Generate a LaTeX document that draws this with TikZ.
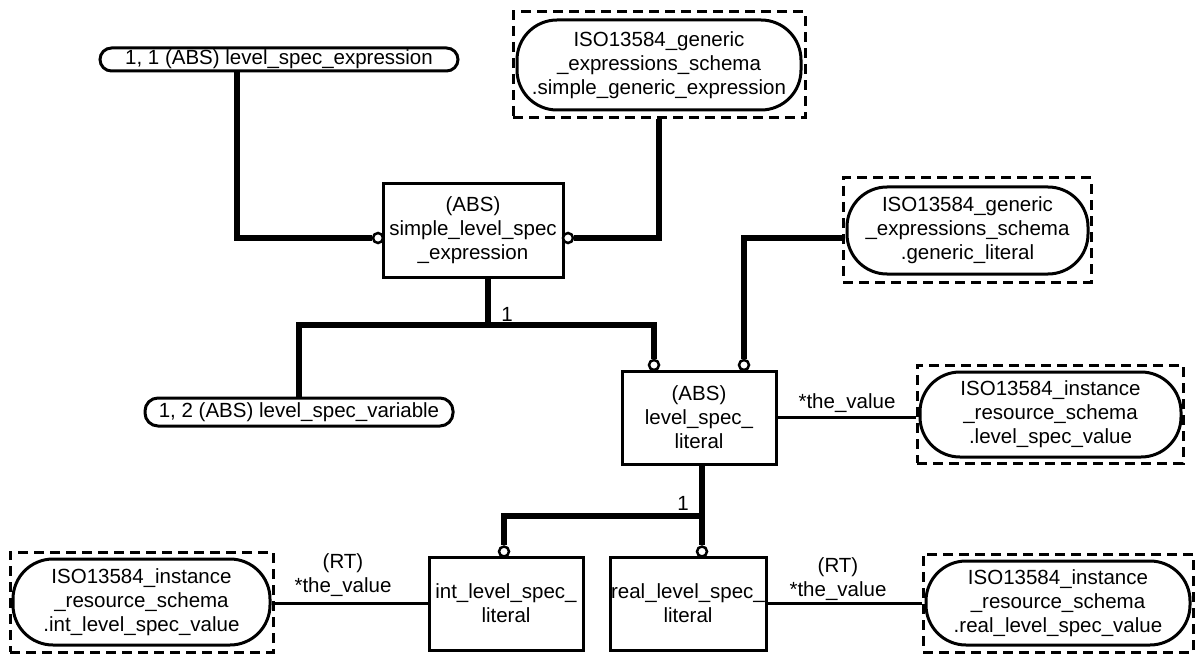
\documentclass[tikz,border=0pt]{standalone}
\usepackage{fontspec}
\setmainfont{Liberation Sans}
\begin{document}
\begin{tikzpicture}[x=1pt,y=-1pt,
  txt/.style={font=\fontsize{20.5}{24}\selectfont, align=center, inner sep=0pt},
  sz/.style 2 args={minimum width=#1, minimum height=#2},
  entbox/.style={txt, draw, line width=3pt},
  rndbox/.style={txt, draw, line width=3pt, rounded corners=#1},
  dashbox/.style={draw, dash pattern=on 10pt off 6pt, line width=3pt, inner sep=0pt},
  port/.style={circle, draw, fill=white, line width=2.5pt, inner sep=0pt, minimum size=10pt},
  heavy/.style={line width=5.5pt},
  light/.style={line width=3pt},
  lbl/.style={txt}]
\useasboundingbox (0,0) rectangle (1196,655);

% top level entities
\node[rndbox=11.5pt, sz={358}{23}] (A) at (279,59.5) {1, 1 (ABS) level\_spec\_expression};
\node[dashbox, sz={292}{106}] (Bd) at (659,65) {};
\node[rndbox=40pt, sz={284}{90}] (B) at (659,65)
  {ISO13584\_generic\\\_expressions\_schema\\.simple\_generic\_expression};

\node[entbox, sz={180}{93}] (S) at (473,230.5) {(ABS)\\simple\_level\_spec\\\_expression};
\node[port] (Sl) at (378,238) {};
\node[port] (Sr) at (568,238) {};

\node[rndbox=13pt, sz={308}{28}] (V) at (299,412) {1, 2 (ABS) level\_spec\_variable};

% generic literal
\node[dashbox, sz={248}{104}] (GLd) at (967,230) {};
\node[rndbox=40pt, sz={241}{87}] (GL) at (967.5,230.5)
  {ISO13584\_generic\\\_expressions\_schema\\.generic\_literal};

\node[entbox, sz={154}{93}] (L) at (699,417.5) {(ABS)\\level\_spec\_\\literal};
\node[port] (Lp1) at (654,365) {};
\node[port] (Lp2) at (744,365) {};

\node[dashbox, sz={266}{98}] (LVd) at (1050,414) {};
\node[rndbox=40pt, sz={261}{85}] (LV) at (1050.5,414.5)
  {ISO13584\_instance\\\_resource\_schema\\.level\_spec\_value};

% literal subtypes
\node[entbox, sz={154}{93}] (I) at (506,603.5) {int\_level\_spec\_\\literal};
\node[entbox, sz={156}{93}] (R) at (688,603.5) {real\_level\_spec\_\\literal};
\node[port] (Ip) at (504,551.5) {};
\node[port] (Rp) at (702,551.5) {};

\node[dashbox, sz={263}{100}] (IVd) at (141.5,602) {};
\node[rndbox=40pt, sz={257}{86}] (IV) at (141.5,602)
  {ISO13584\_instance\\\_resource\_schema\\.int\_level\_spec\_value};

\node[dashbox, sz={270}{98}] (RVd) at (1058,603) {};
\node[rndbox=40pt, sz={264}{84}] (RV) at (1058,603)
  {ISO13584\_instance\\\_resource\_schema\\.real\_level\_spec\_value};

% junction points of the select trees
\coordinate (j1) at (488,325);
\coordinate (j2) at (702,516);

% connectors
\draw[heavy] ([xshift=-42pt]A.south) |- (Sl.west);
\draw[heavy] (Bd.south) |- (Sr.east);

\draw[heavy] (S.south -| j1) -- (j1);
\draw[heavy] (V.north) -- (V.north |- j1) -- (j1 -| Lp1) -- (Lp1.north);
\node[lbl] (one1) at (507,314) {1};

\draw[heavy] ([yshift=-8pt]GLd.west) -| (Lp2.north);

\draw[light] (L.east) -- (L.east -| LVd.west);
\node[lbl] (tv1) at (847,403) {*the\_value};

\draw[heavy] (L.south -| j2) -- (j2);
\draw[heavy] (Ip.north) -- (Ip.north |- j2) -- (j2 -| Rp) -- (Rp.north);
\node[lbl] (one2) at (683,503) {1};

\draw[light] (I.west) -- (I.west -| IVd.east);
\node[lbl] (tv2) at (343,575) {(RT)\\*the\_value};

\draw[light] (R.east) -- (R.east -| RVd.west);
\node[lbl] (tv3) at (838,579) {(RT)\\*the\_value};
\end{tikzpicture}
\end{document}
